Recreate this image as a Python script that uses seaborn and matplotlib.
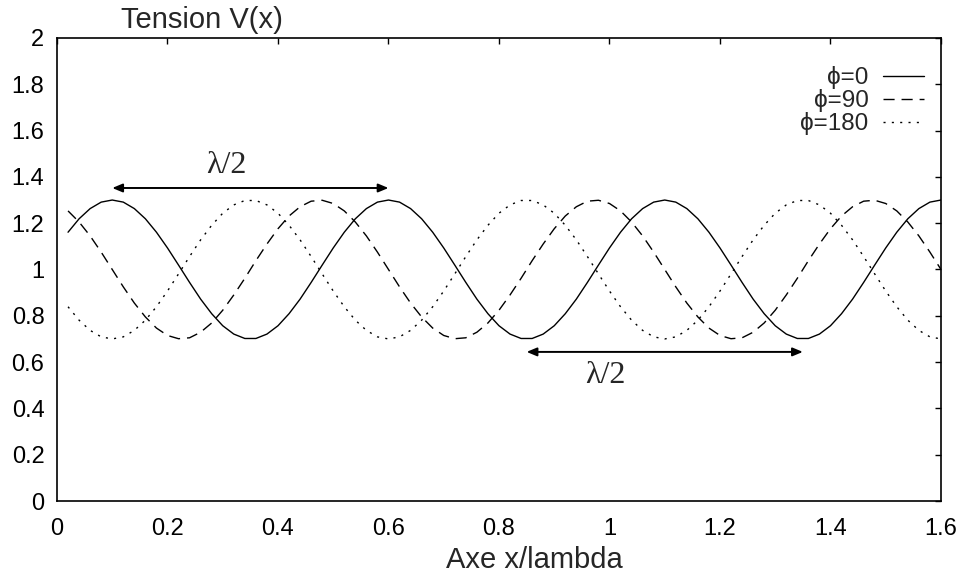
import numpy as np
import pandas as pd
import matplotlib
matplotlib.use("Agg")
import matplotlib.pyplot as plt
import seaborn as sns

# sample positions along x/lambda (one every 0.02)
x_pos = np.linspace(0.02, 1.6, 80)

# values
v_phi0 = [
    1.161, 1.219, 1.263, 1.291,
    1.300, 1.291, 1.263, 1.219, 1.161, 1.093, 1.019, 0.944, 0.872, 0.809, 0.757, 0.721, 0.702,
    0.702, 0.721, 0.757, 0.809, 0.872, 0.944, 1.019, 1.093, 1.161, 1.219, 1.263, 1.291,
    1.300, 1.291, 1.263, 1.219, 1.161, 1.093, 1.019, 0.944, 0.872, 0.809, 0.757, 0.721, 0.702,
    0.702, 0.721, 0.757, 0.809, 0.872, 0.944, 1.019, 1.093, 1.161, 1.219, 1.263, 1.291,
    1.300, 1.291, 1.263, 1.219, 1.161, 1.093, 1.019, 0.944, 0.872, 0.809, 0.757, 0.721, 0.702,
    0.702, 0.721, 0.757, 0.809, 0.872, 0.944, 1.019, 1.093, 1.161, 1.219, 1.263, 1.291,
    1.300,
]
v_phi90 = [
    1.253, 1.205, 1.145, 1.075, 1.000, 0.925, 0.855, 0.795, 0.747, 0.715, 0.701, 0.705,
    0.729, 0.769, 0.824, 0.890, 0.962, 1.038, 1.110, 1.176, 1.231, 1.271, 1.295, 1.299,
    1.285, 1.253, 1.205, 1.145, 1.075, 1.000, 0.925, 0.855, 0.795, 0.747, 0.715, 0.701, 0.705,
    0.729, 0.769, 0.824, 0.890, 0.962, 1.038, 1.110, 1.176, 1.231, 1.271, 1.295, 1.299,
    1.285, 1.253, 1.205, 1.145, 1.075, 1.000, 0.925, 0.855, 0.795, 0.747, 0.715, 0.701, 0.705,
    0.729, 0.769, 0.824, 0.890, 0.962, 1.038, 1.110, 1.176, 1.231, 1.271, 1.295, 1.299,
    1.285, 1.253, 1.205, 1.145, 1.075, 1.000,
]
v_phi180 = [
    0.839, 0.781, 0.737, 0.709,
    0.700, 0.709, 0.737, 0.781, 0.839, 0.907, 0.981, 1.056, 1.128, 1.191, 1.243, 1.279, 1.298,
    1.298, 1.279, 1.243, 1.191, 1.128, 1.056, 0.981, 0.907, 0.839, 0.781, 0.737, 0.709,
    0.700, 0.709, 0.737, 0.781, 0.839, 0.907, 0.981, 1.056, 1.128, 1.191, 1.243, 1.279, 1.298,
    1.298, 1.279, 1.243, 1.191, 1.128, 1.056, 0.981, 0.907, 0.839, 0.781, 0.737, 0.709,
    0.700, 0.709, 0.737, 0.781, 0.839, 0.907, 0.981, 1.056, 1.128, 1.191, 1.243, 1.279, 1.298,
    1.298, 1.279, 1.243, 1.191, 1.128, 1.056, 0.981, 0.907, 0.839, 0.781, 0.737, 0.709,
    0.700,
]

labels = ["ϕ=0", "ϕ=90", "ϕ=180"]
x_ticks = [0, 0.2, 0.4, 0.6, 0.8, 1, 1.2, 1.4, 1.6]
y_ticks = [0, 0.2, 0.4, 0.6, 0.8, 1, 1.2, 1.4, 1.6, 1.8, 2]

sns.set_style("white")
plt.rcParams["font.family"] = ["Liberation Sans", "DejaVu Sans"]

fig = plt.figure(figsize=(9.66, 5.77), dpi=100)
ax = fig.add_axes([0.059, 0.1317, 0.9151, 0.8025])

styles = ["-", (0, (8, 5)), (0, (1.5, 4.5))]
for vals, lab, ls in zip([v_phi0, v_phi90, v_phi180], labels, styles):
    sns.lineplot(x=x_pos, y=vals, ax=ax, color="black", lw=1.0,
                 linestyle=ls, label=lab)

ax.set_xlim(0, 1.6)
ax.set_ylim(0, 2)
ax.set_xticks(x_ticks)
ax.set_yticks(y_ticks)
ax.set_xticklabels([f"{t:g}" for t in x_ticks])
ax.set_yticklabels([f"{t:g}" for t in y_ticks])
ax.tick_params(direction="in", top=True, right=True, length=4.5, width=1,
               labelsize=17, color="black", labelcolor="black")
ax.tick_params(axis="x", pad=12)
ax.tick_params(axis="y", pad=9)
for side, sp in ax.spines.items():
    sp.set_color("black")
    sp.set_linewidth(1.2)
ax.spines["left"].set_linestyle((0, (4, 1)))
ax.spines["bottom"].set_linestyle((0, (4, 1)))

ax.set_xlabel("Axe x/lambda", fontsize=21)
ax.xaxis.set_label_coords((534 - 57) / 884, -0.098)
ax.set_ylabel("")
fig.text(202 / 966, 1 - 20 / 577, "Tension V(x)", fontsize=21,
         ha="center", va="center")

leg = ax.legend(loc="upper right", bbox_to_anchor=(0.995, 0.965), frameon=False,
                markerfirst=False, fontsize=17.5, handlelength=1.7,
                handletextpad=0.6, labelspacing=0.0, borderpad=0)

# half-wavelength arrows
arrow = dict(arrowstyle="<|-|>,head_length=0.6,head_width=0.25", color="black",
             lw=1.4, shrinkA=0, shrinkB=0)
ax.annotate("", xy=(0.1, 1.352), xytext=(0.6, 1.352), arrowprops=arrow)
ax.annotate("", xy=(0.85, 0.644), xytext=(1.35, 0.644), arrowprops=arrow)
ax.text(0.307, 1.451, "λ/2", family=["Liberation Serif", "DejaVu Serif"],
        fontsize=23, ha="center", va="center")
ax.text(0.992, 0.544, "λ/2", family=["Liberation Serif", "DejaVu Serif"],
        fontsize=23, ha="center", va="center")

fig.savefig("out.png", dpi=100)
